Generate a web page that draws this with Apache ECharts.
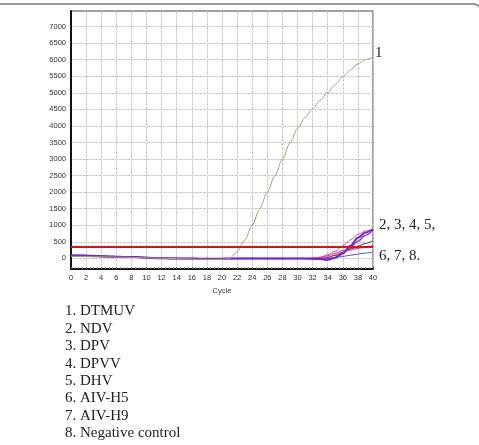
<!DOCTYPE html>
<html><head><meta charset="utf-8">
<script src="https://cdn.jsdelivr.net/npm/echarts@6/dist/echarts.min.js"></script>
<style>html,body{margin:0;padding:0;background:#fff}#c{width:479px;height:445px}</style>
</head><body><div id="c"></div>
<script>
const cycles = [0,1,2,3,4,5,6,7,8,9,10,11,12,13,14,15,16,17,18,19,20,21,22,23,24,25,26,27,28,29,30,31,32,33,34,35,36,37,38,39,40];
const yTicks = [0,500,1000,1500,2000,2500,3000,3500,4000,4500,5000,5500,6000,6500,7000];
const threshold = 360;
const dtmuv = [60,57,54,50,46,42,38,34,30,24,18,12,6,0,-6,-12,-18,-24,-28,-30,-28,0,200,550,1000,1500,2000,2500,3000,3480,3920,4250,4520,4770,5010,5250,5480,5690,5870,6000,6080];
const ndv  = [95,92,88,78,68,60,52,48,52,42,28,14,6,0,-2,-4,-6,-8,-10,-10,-8,-6,-4,-2,-2,-3,-4,-4,-4,-4,-3,-2,5,40,110,220,380,560,720,830,900];
const dpv  = [85,86,84,76,66,58,50,46,44,36,22,10,4,0,0,-2,-5,-8,-10,-10,-8,-5,-3,-2,-2,-3,-5,-5,-5,-5,-5,-6,-10,-20,-40,20,150,380,620,780,880];
const dpvv = [70,70,66,60,54,48,42,38,34,28,18,8,2,0,-2,-4,-6,-8,-10,-10,-8,-6,-4,-2,-2,-3,-4,-4,-4,-4,-3,-2,0,10,30,90,180,280,370,450,530];
const dhv  = [80,78,74,66,58,52,46,44,48,38,24,12,4,0,-2,-4,-6,-8,-10,-10,-8,-6,-4,-2,-2,-3,-4,-4,-4,-4,-3,-2,5,30,80,160,240,290,330,360,380];
const h5   = [75,74,70,64,56,50,44,40,36,30,20,10,4,0,-2,-4,-6,-8,-10,-10,-8,-6,-4,-2,-2,-3,-4,-4,-4,-4,-3,-3,-4,-5,0,30,60,95,130,160,190];
const h9   = [90,90,86,78,68,60,52,48,46,38,24,12,4,0,0,-2,-5,-8,-10,-10,-8,-5,-3,-2,-2,-3,-5,-5,-5,-5,-5,-5,-6,0,-30,30,160,330,520,700,850];
const neg  = [65,64,60,56,50,45,40,36,34,28,18,8,2,0,-2,-4,-6,-8,-10,-10,-8,-6,-4,-2,-2,-3,-4,-4,-4,-4,-3,-2,0,10,40,110,190,250,300,340,370];
const legendItems = ["1. DTMUV","2. NDV","3. DPV","4. DPVV","5. DHV","6. AIV-H5","7. AIV-H9","8. Negative control"];
const endLabels = ["1","2, 3, 4, 5,","6, 7, 8."];

const pair = arr => arr.map((v,i)=>[cycles[i],v]);
function ln(name, arr, color, width, z){
  return {name, type:'line', data:pair(arr), showSymbol:false, symbol:'none', smooth:0.3, smoothMonotone:'x',
    lineStyle:{color, width}, itemStyle:{color}, z:z||3, animation:false};
}
const serif = '"Liberation Serif","Times New Roman",serif';
const chart = echarts.init(document.getElementById('c'));
const graphics = [
  {type:'rect', shape:{x:-10,y:4,width:490,height:520,r:6}, style:{fill:'none',stroke:'#7a7a7a',lineWidth:1.5}, silent:true},
  {type:'text', left:375, top:46, style:{text:endLabels[0], font:'15px '+serif, fill:'#222'}},
  {type:'text', left:379, top:218, style:{text:endLabels[1], font:'15px '+serif, fill:'#222'}},
  {type:'text', left:379, top:249, style:{text:endLabels[2], font:'15px '+serif, fill:'#222'}}
];
legendItems.forEach((t,i)=>{
  graphics.push({type:'text', left:65, top:304 + i*17.4, style:{text:t, font:'15px '+serif, fill:'#222'}});
});
chart.setOption({
  animation:false,
  grid:{left:71, right:106, top:11, bottom:176, show:true, borderColor:'#444', borderWidth:1, containLabel:false},
  xAxis:{type:'value', min:0, max:40, interval:2,
    name:'Cycle', nameLocation:'middle', nameGap:15, nameTextStyle:{fontSize:7.5, color:'#444', fontFamily:'Liberation Sans'},
    axisLine:{show:true, onZero:false, lineStyle:{color:'#111', width:2}},
    axisTick:{show:true, inside:true, length:2, lineStyle:{color:'#555'}},
    minorTick:{show:true, splitNumber:4, length:1.5, lineStyle:{color:'#666'}},
    axisLabel:{fontSize:7.5, color:'#333', margin:5, fontFamily:'Liberation Sans'},
    splitLine:{show:true, lineStyle:{color:'#c8c8c8', type:[3,1], width:1}}
  },
  yAxis:{type:'value', min:-320, max:7470,
    axisLine:{show:true, lineStyle:{color:'#111', width:2}},
    axisTick:{show:false, customValues:yTicks},
    axisLabel:{customValues:yTicks, fontSize:7.5, color:'#333', margin:5, fontFamily:'Liberation Sans', formatter:v=>String(v)},
    splitLine:{show:true, lineStyle:{color:'#c8c8c8', type:[3,1], width:1}}
  },
  graphic:graphics,
  series:[
    ln('DTMUV', dtmuv, '#a8a27a', 1, 4),
    ln('AIV-H5', h5, '#4a50d8', 1),
    ln('DPVV', dpvv, '#4a2a48', 1),
    ln('DHV', dhv, '#e0304a', 1),
    ln('Negative control', neg, '#c040b0', 1),
    ln('NDV', ndv, '#d850b8', 1),
    ln('AIV-H9', h9, '#9040e0', 1.5),
    Object.assign(ln('DPV', dpv, '#7428c0', 2), {
      markLine:{symbol:'none', silent:true, label:{show:false},
        lineStyle:{color:'#e01010', width:2, type:'solid'},
        data:[{yAxis:threshold}]}
    })
  ]
});
</script></body></html>
